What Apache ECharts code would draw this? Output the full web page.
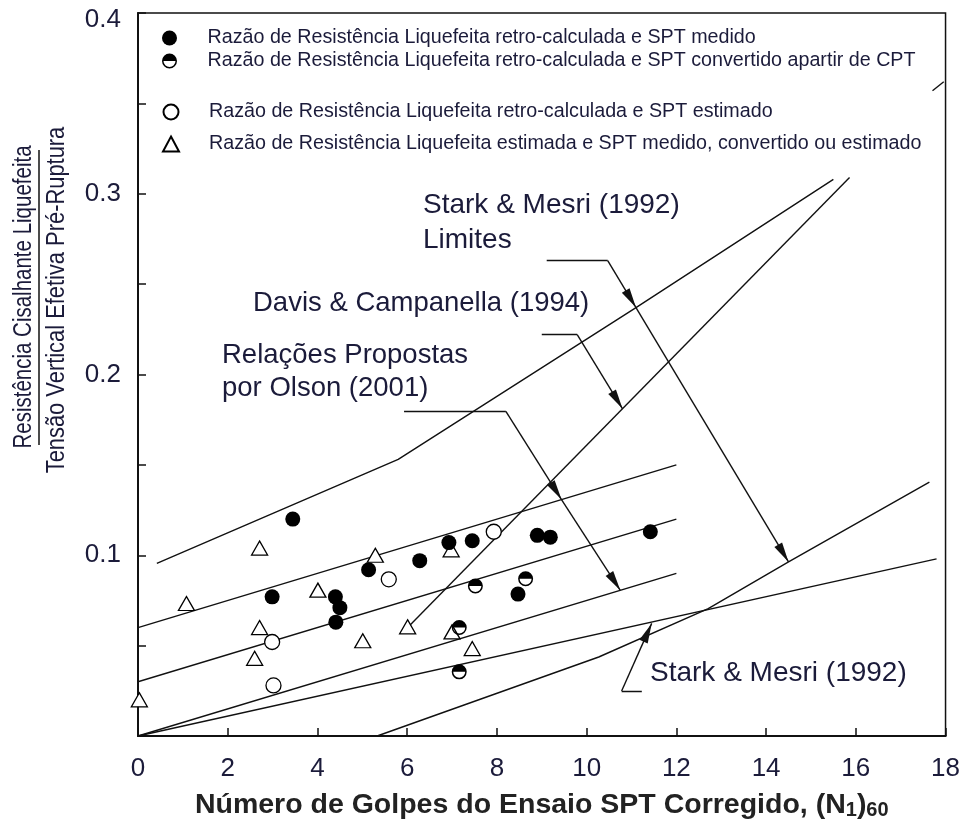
<!DOCTYPE html>
<html>
<head>
<meta charset="utf-8">
<script src="https://cdn.jsdelivr.net/npm/echarts@6/dist/echarts.min.js"></script>
<style>
  html, body { margin: 0; padding: 0; background: #fff; }
  #chart { width: 963px; height: 829px; }
</style>
</head>
<body>
<div id="chart"></div>
<script>
  // dados: [N1_60, razão]
  var filledPts = [[3.45, 0.120], [5.14, 0.092], [6.28, 0.097], [2.99, 0.077], [4.40, 0.077], [4.50, 0.071],
    [4.41, 0.063], [6.93, 0.107], [7.45, 0.108], [8.90, 0.111], [9.19, 0.110], [11.42, 0.113], [8.47, 0.0785]];
  var halfPts = [[7.52, 0.083], [8.64, 0.087], [7.16, 0.060], [7.16, 0.0355]];
  var openPts = [[5.59, 0.0867], [7.93, 0.113], [2.99, 0.052], [3.02, 0.028]];
  var triPts = [[2.71, 0.104], [5.29, 0.100], [1.08, 0.0733], [4.01, 0.0807], [2.71, 0.060], [2.60, 0.043],
    [5.01, 0.0527], [6.01, 0.0604], [0.03, 0.020], [7.00, 0.0576], [7.45, 0.0484], [6.98, 0.103]];

  // curvas
  var olsonUpper = [[0, 0.06], [12, 0.15]];
  var olsonMean = [[0, 0.03], [12, 0.12]];
  var olsonLower = [[0, 0], [12, 0.09]];
  var starkLine = [[0, 0], [17.8, 0.098]];
  var starkUpperBound = [[0.42, 0.0955], [5.8, 0.153], [11.1, 0.237], [15.5, 0.308]];
  var starkLowerBound = [[5.33, 0], [10.27, 0.0437], [12.71, 0.0705], [14.5, 0.0963], [17.64, 0.1405]];
  var davisLine = [[6.0, 0.0597], [15.86, 0.309]];
  var cornerStub = [[17.71, 0.357], [17.96, 0.362]];

  // linhas de chamada (sem seta) e segmentos com seta na ponta
  var leaderLines = [
    [[9.11, 0.263], [10.47, 0.263]],
    [[9.0, 0.2221], [9.79, 0.2221]],
    [[5.93, 0.1796], [8.2, 0.1796]],
    [[11.23, 0.0249], [10.78, 0.0249]]
  ];
  var arrowLines = [
    [[10.47, 0.263], [11.1, 0.237]],
    [[11.1, 0.237], [14.5, 0.0963]],
    [[9.79, 0.2221], [10.8, 0.181]],
    [[8.2, 0.1796], [9.44, 0.1308]],
    [[9.44, 0.1308], [10.75, 0.0806]],
    [[10.78, 0.0249], [11.45, 0.0623]]
  ];

  var xTicks = [0, 2, 4, 6, 8, 10, 12, 14, 16, 18];
  var yTickLabels = ["0.1", "0.2", "0.3", "0.4"];

  var names = [
    "Razão de Resistência Liquefeita retro-calculada e SPT medido",
    "Razão de Resistência Liquefeita retro-calculada e SPT convertido apartir de CPT",
    "Razão de Resistência Liquefeita retro-calculada e SPT estimado",
    "Razão de Resistência Liquefeita estimada e SPT medido, convertido ou estimado"
  ];

  var txtColor = "#1b1b3a";
  var font = "Liberation Sans, Arial, sans-serif";
  var halfSymbol = "path://M0,10 A10,10 0 0 1 20,10 Z M0,10 A10,10 0 0 0 20,10 L18,10 A8,8 0 0 1 2,10 Z";
  var arrowSymbol = "path://M4,0 M4,20 L8,40 L0,40 Z";

  function curve(data) {
    return {
      type: "line",
      data: data,
      symbol: "none",
      silent: true,
      z: 2,
      lineStyle: { color: "#111", width: 1.4 }
    };
  }

  function legendBox(top, gap, data) {
    return {
      orient: "vertical",
      left: 157,
      top: top,
      itemWidth: 16,
      itemHeight: 15,
      itemGap: gap,
      selectedMode: false,
      textStyle: { fontSize: 19.7, fontFamily: font, color: txtColor, lineHeight: 20, padding: [0, 0, 0, 25] },
      data: data
    };
  }

  var myChart = echarts.init(document.getElementById("chart"));
  var option = {
    animation: false,
    backgroundColor: "#fff",
    grid: {
      left: 138,
      right: 15,
      top: 13,
      bottom: 93,
      show: true,
      borderColor: "#111",
      borderWidth: 1.5
    },
    xAxis: {
      type: "value",
      min: 0,
      max: 18,
      interval: 2,
      axisLine: { show: true, onZero: false, lineStyle: { color: "#111", width: 2 } },
      axisTick: { show: true, inside: true, length: 8, lineStyle: { color: "#111", width: 1.5 } },
      axisLabel: {
        margin: 20,
        fontSize: 26,
        fontFamily: font,
        color: txtColor,
        formatter: function (v) {
          return xTicks.indexOf(v) >= 0 ? String(v) : "";
        }
      },
      splitLine: { show: false },
      name: "{b|Número de Golpes do Ensaio SPT Corregido, (N}{s|1}{b|)}{s|60}",
      nameLocation: "middle",
      nameGap: 55,
      nameTextStyle: {
        rich: {
          b: { fontSize: 28.5, fontWeight: "bold", fontFamily: font, color: "#222" },
          s: { fontSize: 20, fontWeight: "bold", fontFamily: font, color: "#222", padding: [9, 0, 0, 0] }
        }
      }
    },
    yAxis: {
      type: "value",
      min: 0,
      max: 0.4,
      interval: 0.05,
      axisLine: { show: true, onZero: false, lineStyle: { color: "#111", width: 2 } },
      axisTick: { show: true, inside: true, length: 8, lineStyle: { color: "#111", width: 1.5 } },
      axisLabel: {
        margin: 17,
        fontSize: 26,
        fontFamily: font,
        color: txtColor,
        formatter: function (v) {
          var s = v.toFixed(1);
          if (Math.abs(v * 10 - Math.round(v * 10)) > 1e-6 || yTickLabels.indexOf(s) < 0) return "";
          return s === "0.4" ? "{t|" + s + "}" : s;
        },
        rich: {
          t: { fontSize: 26, fontFamily: font, color: txtColor, padding: [14, 0, 0, 0] }
        }
      },
      splitLine: { show: false }
    },
    legend: [
      legendBox(23, 3, [names[0], names[1]]),
      legendBox(97, 12, [names[2], names[3]])
    ],
    graphic: [
      {
        type: "text", x: 24, y: 297, rotation: Math.PI / 2, scaleX: 0.82,
        style: { text: "Resistência Cisalhante Liquefeita", font: "25px " + font, fill: txtColor, align: "center", verticalAlign: "middle" }
      },
      {
        type: "line", shape: { x1: 39, y1: 150, x2: 39, y2: 445 },
        style: { stroke: "#111", lineWidth: 1.5 }
      },
      {
        type: "text", x: 57, y: 300, rotation: Math.PI / 2, scaleX: 0.875,
        style: { text: "Tensão Vertical Efetiva Pré-Ruptura", font: "25px " + font, fill: txtColor, align: "center", verticalAlign: "middle" }
      },
      { type: "text", x: 423, y: 205, style: { text: "Stark & Mesri (1992)", font: "28px " + font, fill: txtColor, verticalAlign: "middle" } },
      { type: "text", x: 423, y: 240, style: { text: "Limites", font: "28px " + font, fill: txtColor, verticalAlign: "middle" } },
      { type: "text", x: 253, y: 303, style: { text: "Davis & Campanella (1994)", font: "27.5px " + font, fill: txtColor, verticalAlign: "middle" } },
      { type: "text", x: 222, y: 355, style: { text: "Relações Propostas", font: "27.5px " + font, fill: txtColor, verticalAlign: "middle" } },
      { type: "text", x: 222, y: 388, style: { text: "por Olson (2001)", font: "27.5px " + font, fill: txtColor, verticalAlign: "middle" } },
      { type: "text", x: 650, y: 673, style: { text: "Stark & Mesri (1992)", font: "28px " + font, fill: txtColor, verticalAlign: "middle" } }
    ],
    series: [
      curve(olsonUpper),
      curve(olsonMean),
      curve(olsonLower),
      curve(starkLine),
      curve(starkUpperBound),
      curve(starkLowerBound),
      curve(davisLine),
      curve(cornerStub),
      {
        type: "lines",
        coordinateSystem: "cartesian2d",
        silent: true,
        z: 3,
        symbol: "none",
        lineStyle: { color: "#111", width: 1.4, opacity: 1 },
        data: leaderLines.map(function (c) { return { coords: c }; })
      },
      {
        type: "lines",
        coordinateSystem: "cartesian2d",
        silent: true,
        z: 3,
        symbol: ["none", arrowSymbol],
        symbolSize: [1, [9, 40]],
        lineStyle: { color: "#111", width: 1.4, opacity: 1 },
        data: arrowLines.map(function (c) { return { coords: c }; })
      },
      {
        name: names[0],
        type: "scatter",
        z: 5,
        symbol: "circle",
        symbolSize: 15,
        itemStyle: { color: "#000", opacity: 1 },
        data: filledPts
      },
      {
        name: names[1],
        type: "scatter",
        z: 5,
        symbol: halfSymbol,
        symbolSize: 15,
        itemStyle: { color: "#000", opacity: 1 },
        data: halfPts
      },
      {
        name: names[2],
        type: "scatter",
        z: 5,
        symbol: "circle",
        symbolSize: 15,
        itemStyle: { color: "#fff", borderColor: "#000", borderWidth: 1.3, opacity: 1 },
        data: openPts
      },
      {
        name: names[3],
        type: "scatter",
        z: 4,
        symbol: "triangle",
        symbolSize: [16, 14],
        itemStyle: { color: "#fff", borderColor: "#000", borderWidth: 1.3, opacity: 1 },
        data: triPts
      }
    ]
  };
  myChart.setOption(option);
</script>
</body>
</html>
